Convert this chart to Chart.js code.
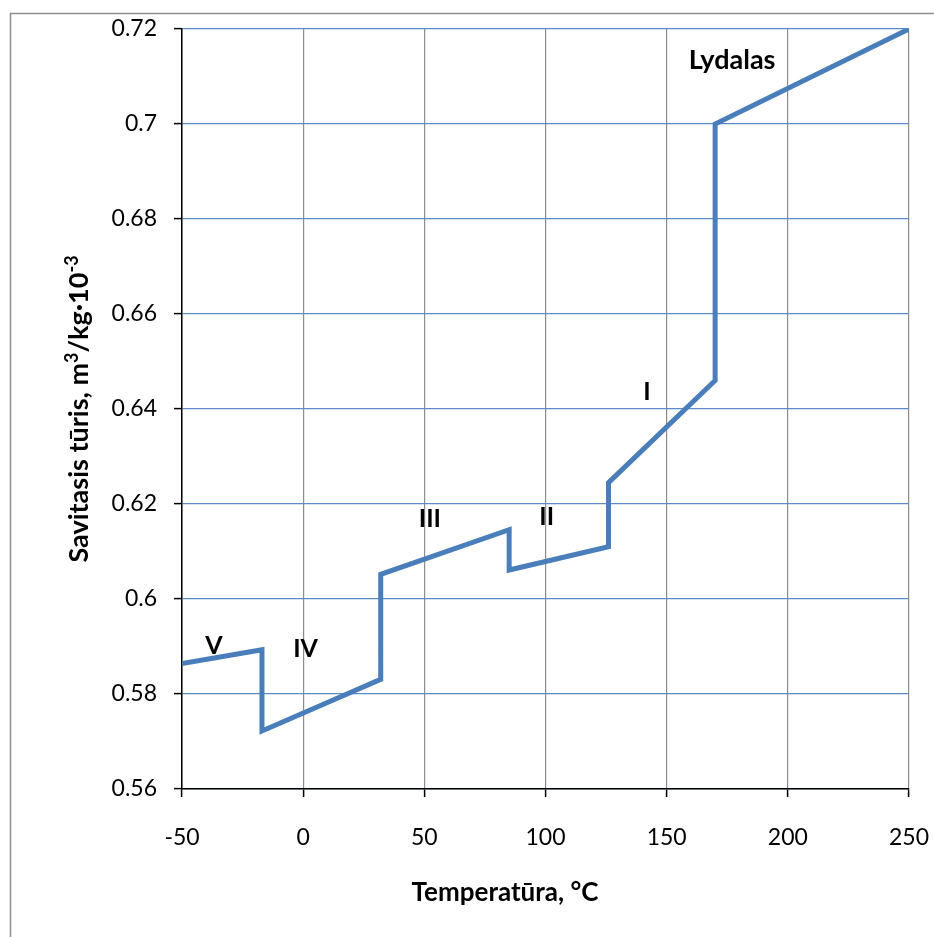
<!DOCTYPE html>
<html>
<head>
<meta charset="utf-8">
<title>Savitasis tūris</title>
<script src="https://cdn.jsdelivr.net/npm/chart.js@4.4.1/dist/chart.umd.min.js"></script>
<style>
  html, body { margin: 0; padding: 0; background: #fff; }
  canvas { display: block; }
</style>
</head>
<body>
<canvas id="chart" width="934" height="937"></canvas>
<script>
// Specific volume vs temperature with phase transitions
const temperature    = [-50, -17, -17, 32, 32, 85, 85, 126, 126, 170, 170, 250];
const specificVolume = [0.5864, 0.5893, 0.5722, 0.5831, 0.6052, 0.6146, 0.6061, 0.6110, 0.6245, 0.6460, 0.7000, 0.7200];

// Phase names and where they sit (data coordinates)
const phaseNames  = ['V', 'IV', 'III', 'II', 'I', 'Lydalas'];
const phaseLabelX = [-36.8, 1.0, 52.3, 100.5, 141.9, 177];
const phaseLabelY = [0.5901, 0.5894, 0.6168, 0.6172, 0.6436, 0.7134];

// Axis ticks
const xTicks = [-50, 0, 50, 100, 150, 200, 250];
const yTicks = [0.56, 0.58, 0.60, 0.62, 0.64, 0.66, 0.68, 0.70, 0.72];

const FONT = 'Lato, "Open Sans", sans-serif';

// Outer frame around the chart
const framePlugin = {
  id: 'frame',
  beforeDraw(chart) {
    const ctx = chart.ctx;
    ctx.save();
    ctx.fillStyle = '#fff';
    ctx.fillRect(0, 0, chart.width, chart.height);
    ctx.strokeStyle = '#8E8E8E';
    ctx.lineWidth = 1.5;
    ctx.strokeRect(10.5, 13.5, chart.width + 20, chart.height + 20);
    ctx.restore();
  }
};

// Phase labels placed on the data scales
const phaseLabelPlugin = {
  id: 'phaseLabels',
  afterDatasetsDraw(chart) {
    const ctx = chart.ctx, xs = chart.scales.x, ys = chart.scales.y;
    ctx.save();
    ctx.fillStyle = '#000';
    ctx.textAlign = 'center';
    ctx.textBaseline = 'middle';
    phaseNames.forEach((name, i) => {
      ctx.font = 'bold ' + (name.length > 3 ? 27 : 25) + 'px ' + FONT;
      ctx.fillText(name, xs.getPixelForValue(phaseLabelX[i]), ys.getPixelForValue(phaseLabelY[i]));
    });
    ctx.restore();
  }
};

// Axis titles (y title carries superscripts)
const axisTitlePlugin = {
  id: 'axisTitles',
  afterDraw(chart) {
    const ctx = chart.ctx, area = chart.chartArea;
    ctx.save();
    ctx.fillStyle = '#000';
    ctx.textBaseline = 'alphabetic';

    // x title
    ctx.font = 'bold 26px ' + FONT;
    ctx.textAlign = 'center';
    ctx.fillText('Temperatūra, °C', 505, 901);

    // y title, rotated, built from normal and superscript pieces
    const parts = [
      { t: 'Savitasis tūris, m', sup: false },
      { t: '3', sup: true },
      { t: '/kg·10', sup: false },
      { t: '-3', sup: true }
    ];
    const normalFont = 'bold 27px ' + FONT;
    const supFont = 'bold 18px ' + FONT;
    let total = 0;
    parts.forEach(p => {
      ctx.font = p.sup ? supFont : normalFont;
      p.w = ctx.measureText(p.t).width;
      total += p.w;
    });
    const cy = (area.top + area.bottom) / 2;
    ctx.translate(88, cy);
    ctx.rotate(-Math.PI / 2);
    ctx.textAlign = 'left';
    let x = -total / 2;
    parts.forEach(p => {
      ctx.font = p.sup ? supFont : normalFont;
      ctx.fillText(p.t, x, p.sup ? -10 : 0);
      x += p.w;
    });
    ctx.restore();
  }
};

new Chart(document.getElementById('chart'), {
  type: 'line',
  data: {
    datasets: [{
      data: temperature.map((t, i) => ({ x: t, y: specificVolume[i] })),
      borderColor: '#4A7EBB',
      borderWidth: 5,
      borderJoinStyle: 'miter',
      pointRadius: 0,
      fill: false,
      tension: 0
    }]
  },
  options: {
    responsive: false,
    animation: false,
    events: [],
    layout: { padding: { top: 29, right: 25, left: 0, bottom: 0 } },
    plugins: { legend: { display: false }, tooltip: { enabled: false } },
    scales: {
      x: {
        type: 'linear',
        min: -50,
        max: 250,
        afterBuildTicks: s => { s.ticks = xTicks.map(v => ({ value: v })); },
        afterFit: s => { s.height = 148; s.paddingLeft = 0; s.paddingRight = 0; },
        grid: { color: '#8C8C8C', lineWidth: 1.2, tickLength: 8, tickColor: '#000', tickWidth: 1.5 },
        border: { color: '#000', width: 1.5 },
        ticks: {
          color: '#000',
          font: { family: FONT, size: 23 },
          padding: 27,
          maxRotation: 0,
          callback: v => String(v)
        }
      },
      y: {
        type: 'linear',
        min: 0.56,
        max: 0.72,
        afterBuildTicks: s => { s.ticks = yTicks.map(v => ({ value: v })); },
        afterFit: s => { s.width = 182; s.paddingTop = 0; s.paddingBottom = 0; },
        grid: { color: '#5B8BC8', lineWidth: 1.2, tickLength: 8, tickColor: '#000', tickWidth: 1.5 },
        border: { color: '#000', width: 1.5 },
        ticks: {
          color: '#000',
          font: { family: FONT, size: 23 },
          padding: 17,
          callback: v => String(parseFloat(Number(v).toFixed(2)))
        }
      }
    }
  },
  plugins: [framePlugin, phaseLabelPlugin, axisTitlePlugin]
});
</script>
</body>
</html>
